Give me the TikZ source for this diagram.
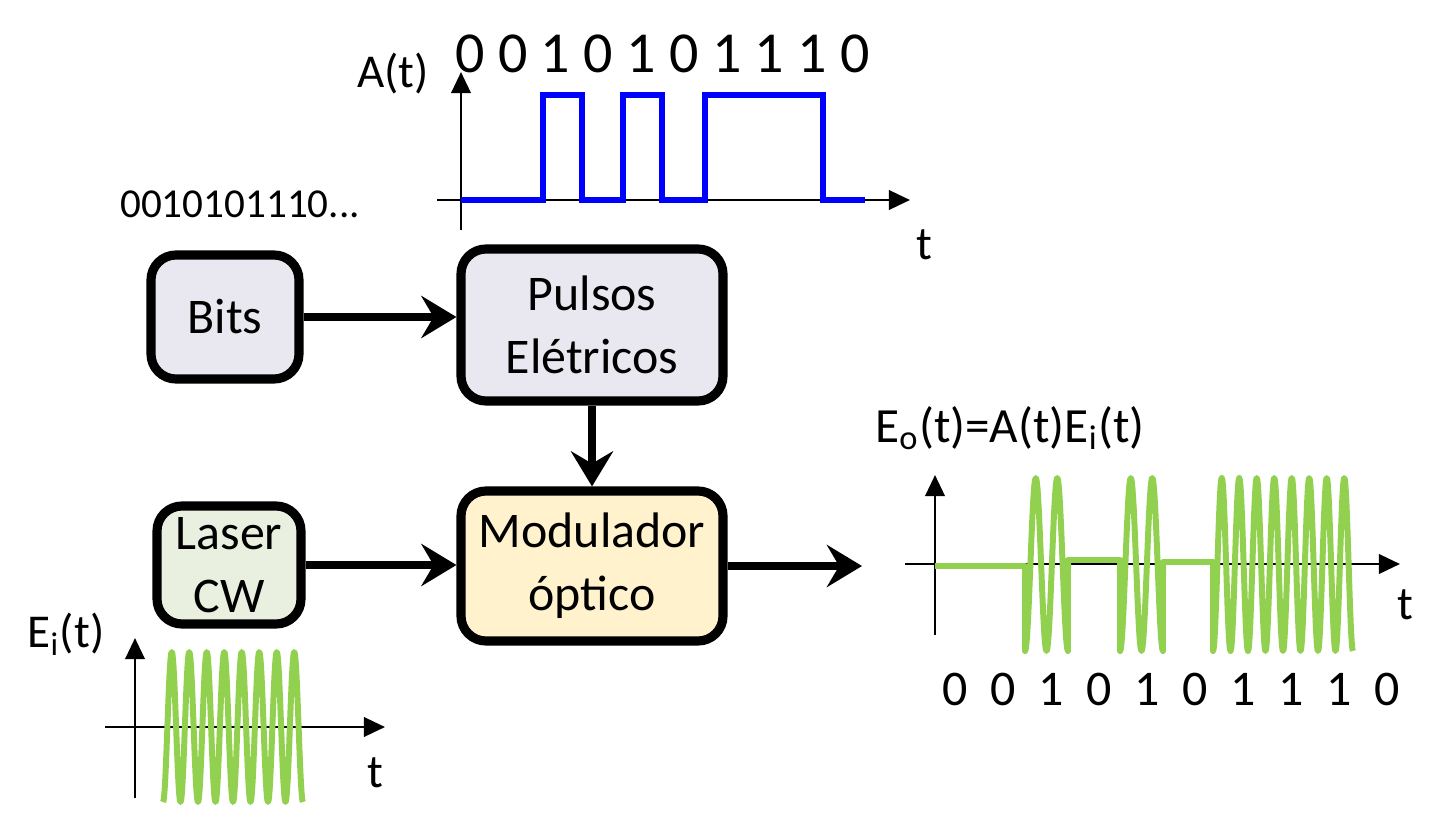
\documentclass[tikz,border=0pt]{standalone}
\usepackage{fontspec}
\setmainfont{Carlito}
\usetikzlibrary{arrows.meta}
\definecolor{caixa}{HTML}{E9E7F0}
\definecolor{caixalaser}{HTML}{E9F0DF}
\definecolor{caixamod}{HTML}{FFF2CC}
\definecolor{verde}{HTML}{92D050}
\tikzset{
  blk/.style={draw, line width=2.6pt, rounded corners=0.25cm, align=center, inner sep=0pt,
    font=\fontsize{14.2}{18}\selectfont},
  flow/.style={line width=2.4pt, -{Stealth[length=10pt,width=12pt,inset=3.5pt]}},
  eixo/.style={line width=0.8pt, -{Triangle[length=6pt,width=5.5pt]}},
  rotulo/.style={font=\fontsize{13.4}{16}\selectfont},
  onda/.style={verde, line width=1.7pt, line join=round},
}
\begin{document}
\begin{tikzpicture}
    \useasboundingbox (0,0) rectangle (14.41,8.28);

    % 方框
    \node[blk, fill=caixa, minimum width=1.48cm, minimum height=1.24cm] (bits) at (2.25,5.11) {Bits};
    \node[blk, fill=caixa, minimum width=2.62cm, minimum height=1.52cm] (pulsos) at (5.92,5.03) {Pulsos\\Elétricos};
    \node[blk, fill=caixalaser, minimum width=1.44cm, minimum height=1.18cm] (laser) at (2.29,2.63) {Laser\\CW};
    \node[blk, fill=caixamod, minimum width=2.62cm, minimum height=1.50cm] (mod) at (5.92,2.62) {Modulador\\óptico};
    \coordinate (saida) at (8.62,2.62);

    % 箭头
    \draw[flow] (bits.east) -- (bits.east -| pulsos.west);
    \draw[flow] (pulsos.south) -- (mod.north);
    \draw[flow] (laser.east) -- (laser.east -| mod.west);
    \draw[flow] (mod.east) -- (saida);

    % A(t)
    \draw[eixo] (4.37,6.28) -- (9.10,6.28);
    \draw[eixo] (4.61,5.98) -- (4.61,7.56);
    \draw[blue, line width=1.7pt] (4.61,6.28) -- (5.43,6.28) -- (5.43,7.33) -- (5.82,7.33) -- (5.82,6.28)
        -- (6.23,6.28) -- (6.23,7.33) -- (6.62,7.33) -- (6.62,6.28) -- (7.05,6.28) -- (7.05,7.33)
        -- (8.23,7.33) -- (8.23,6.28) -- (8.65,6.28);
    \foreach \b [count=\i from 0] in {0,0,1,0,1,0,1,1,1,0}
        \node[font=\fontsize{16.5}{18}\selectfont, inner sep=0pt] at ({4.70+0.428*\i},7.745) {\b};
    \node[rotulo] (at) at (3.93,7.54) {A(t)};
    \node[rotulo] (ta) at (9.24,5.83) {t};
    \node[font=\fontsize{11.7}{14}\selectfont] (seq) at (2.40,6.24) {0010101110...};

    % E_i(t)
    \draw[eixo] (1.05,1.01) -- (3.85,1.01);
    \draw[eixo] (1.35,0.30) -- (1.35,1.90);
    \draw[onda, domain=1.63:3.03, samples=241, smooth, variable=\x] plot ({\x},{1.01-0.75*cos(360*8*(\x-1.63)/1.40)});
    \node[rotulo] (ei) at (0.66,1.94) {E\textsubscript{i}(t)};
    \node[rotulo] (ti) at (3.75,0.55) {t};

    % E_o(t)
    \draw[eixo] (9.05,2.64) -- (14.00,2.64);
    \draw[eixo] (9.35,1.93) -- (9.35,3.53);
    \draw[onda] (9.35,2.62) -- (10.25,2.62) -- (10.25,1.77)
        -- plot[domain=10.25:10.68, samples=61, smooth, variable=\x] ({\x},{2.635-0.865*cos(360*2*(\x-10.25)/0.43)})
        -- (10.68,2.68) -- (11.20,2.68) -- (11.20,1.77)
        -- plot[domain=11.20:11.63, samples=61, smooth, variable=\x] ({\x},{2.635-0.865*cos(360*2*(\x-11.20)/0.43)})
        -- (11.63,2.66) -- (12.13,2.66) -- (12.13,1.77)
        -- plot[domain=12.13:13.53, samples=241, smooth, variable=\x] ({\x},{2.635-0.865*cos(360*8*(\x-12.13)/1.40)});
    \foreach \b [count=\i from 0] in {0,0,1,0,1,0,1,1,1,0}
        \node[font=\fontsize{14.2}{16}\selectfont, inner sep=0pt] at ({9.55+0.48*\i},1.39) {\b};
    \node[font=\fontsize{14}{16}\selectfont] (eo) at (10.10,4.00) {E\textsubscript{o}(t)=A(t)E\textsubscript{i}(t)};
    \node[rotulo] (to) at (14.05,2.23) {t};
\end{tikzpicture}
\end{document}
